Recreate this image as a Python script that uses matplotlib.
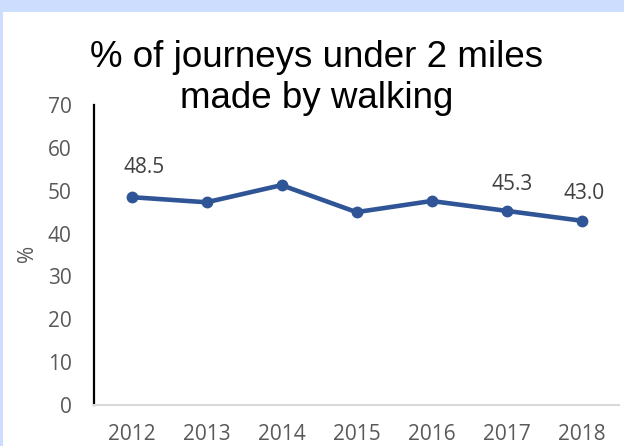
import matplotlib.pyplot as plt
from matplotlib.patches import Rectangle

years = ["2012", "2013", "2014", "2015", "2016", "2017", "2018"]
walk_pct = [48.5, 47.3, 51.3, 45.0, 47.6, 45.3, 43.0]
# only some points carry a label in the original
labelled = {0: "48.5", 5: "45.3", 6: "43.0"}
label_offsets = {0: (9, 21), 5: (4, 19), 6: (1.5, 19.5)}

W, H = 624, 446
fig = plt.figure(figsize=(W / 100, H / 100), dpi=100, facecolor="#CDDDFD")
fig.patches.append(Rectangle((3 / W, 0), 1, 1 - 12 / H, transform=fig.transFigure,
                             facecolor="white", edgecolor="none", zorder=-10))

ax = fig.add_axes([94 / W, 41 / H, (619 - 94) / W, 300 / H])
ax.set_facecolor("none")

x = list(range(len(years)))
ax.plot(x, walk_pct, color="#2F5597", lw=3.3, marker="o", ms=7.5, solid_capstyle="round")

for i, txt in labelled.items():
    ax.annotate(txt, (x[i], walk_pct[i]), xytext=label_offsets[i], textcoords="offset points",
                ha="center", va="center", fontsize=15, color="#404040", family="Open Sans")

ax.set_xlim(-0.5, len(years) - 0.5)
ax.set_ylim(0, 70)
ax.set_yticks(range(0, 71, 10))
ax.set_xticks(x)
ax.set_xticklabels(years)

for lab in ax.get_xticklabels() + ax.get_yticklabels():
    lab.set_family("Open Sans")
    lab.set_fontsize(15)
    lab.set_color("#595959")
ax.tick_params(axis="both", length=0)
ax.tick_params(axis="y", pad=16)
ax.tick_params(axis="x", pad=14)

ax.spines["top"].set_visible(False)
ax.spines["right"].set_visible(False)
ax.spines["left"].set_color("black")
ax.spines["left"].set_linewidth(1.6)
ax.spines["bottom"].set_color("#D9D9D9")
ax.spines["bottom"].set_linewidth(1.5)

fig.text(28 / W, 1 - 253 / H, "%", rotation=90, ha="center", va="center",
         fontsize=15, color="#595959", family="Open Sans")

fig.text(317 / W, 1 - 78 / H, "% of journeys under 2 miles\nmade by walking", ha="center", va="center",
         fontsize=26.5, color="black", family="Liberation Sans", linespacing=1.2)

fig.savefig("out.png", dpi=100, facecolor=fig.get_facecolor())
